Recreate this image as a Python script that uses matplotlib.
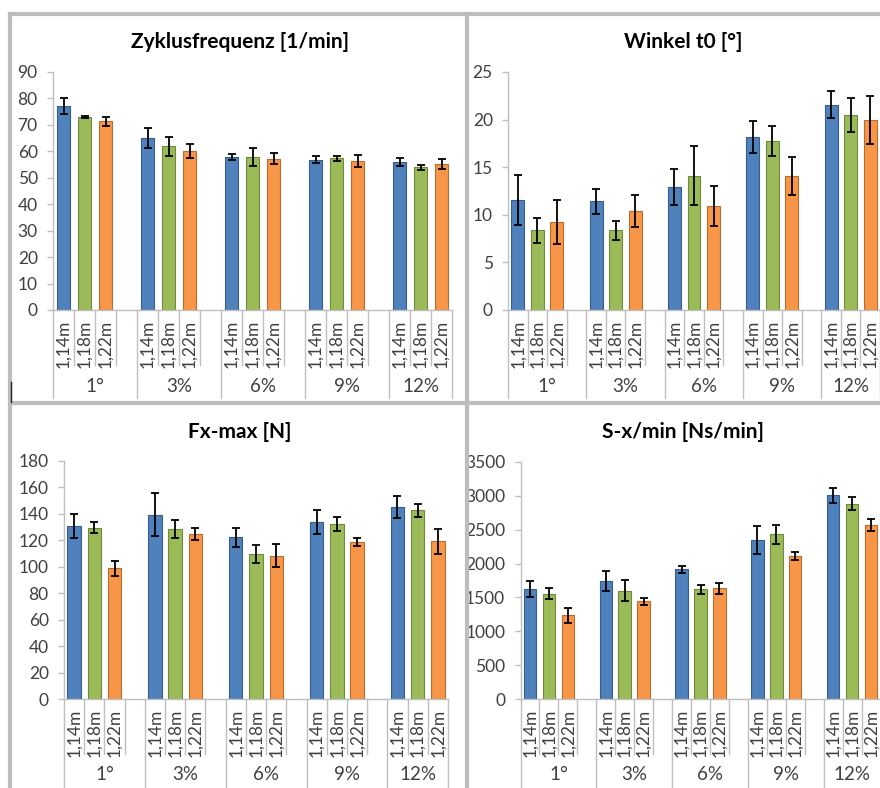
import matplotlib
matplotlib.use("Agg")
import matplotlib.pyplot as plt
from matplotlib.lines import Line2D
from matplotlib.transforms import blended_transform_factory
import numpy as np

W, H, DPI = 880, 788, 100

# ---------------- data ----------------
groups = ["1°", "3%", "6%", "9%", "12%"]
lengths = ["1,14m", "1,18m", "1,22m"]

zyklus_114 = [77.0, 65.2, 57.9, 56.9, 55.8]
zyklus_118 = [73.0, 61.9, 57.9, 57.4, 54.0]
zyklus_122 = [71.3, 60.1, 57.2, 56.3, 55.1]
zyklus_err_114 = [3.0, 3.8, 1.1, 1.4, 1.5]
zyklus_err_118 = [0.3, 3.6, 3.5, 1.0, 1.0]
zyklus_err_122 = [1.6, 2.5, 2.1, 2.2, 1.9]

winkel_114 = [11.55, 11.4, 12.96, 18.17, 21.57]
winkel_118 = [8.37, 8.37, 14.11, 17.75, 20.45]
winkel_122 = [9.28, 10.43, 10.92, 14.11, 19.96]
winkel_err_114 = [2.6, 1.33, 1.9, 1.7, 1.4]
winkel_err_118 = [1.3, 1.0, 3.1, 1.6, 1.8]
winkel_err_122 = [2.3, 1.7, 2.1, 2.0, 2.5]

fx_114 = [130.8, 139.4, 122.5, 133.9, 144.9]
fx_118 = [129.6, 128.3, 109.4, 132.3, 142.7]
fx_122 = [98.8, 124.8, 108.4, 118.7, 119.2]
fx_err_114 = [9.0, 16.3, 7.2, 9.0, 8.3]
fx_err_118 = [4.4, 6.8, 6.8, 5.2, 4.7]
fx_err_122 = [5.5, 4.4, 8.7, 3.0, 9.3]

sx_114 = [1622, 1740, 1917, 2350, 3008]
sx_118 = [1558, 1598, 1622, 2433, 2886]
sx_122 = [1234, 1440, 1632, 2114, 2571]
sx_err_114 = [118, 145, 49, 209, 113]
sx_err_118 = [76, 155, 67, 140, 100]
sx_err_122 = [115, 54, 79, 57, 91]

titles = ["Zyklusfrequenz [1/min]", "Winkel t0 [°]", "Fx-max [N]", "S-x/min [Ns/min]"]
yticks_list = [np.arange(0, 91, 10), np.arange(0, 26, 5),
               np.arange(0, 181, 20), np.arange(0, 3501, 500)]

# ---------------- style ----------------
plt.rcParams['font.family'] = ['Lato', 'DejaVu Sans']
colors = ["#4F81BD", "#9BBB59", "#F79646"]
edges = ["#385D8A", "#71893F", "#B66D31"]
AXGRAY = "#BFBFBF"
BORDER = "#BDBDBD"
TXT = "#404040"

fig = plt.figure(figsize=(W / DPI, H / DPI), dpi=DPI)
fig.patch.set_facecolor("white")

def fy(py):
    return 1 - py / H

def fx(px):
    return px / W

panels = [
    dict(left=53, right=452, top=72, zero=310, tx=240, ty=42, gbottom=398,
         series=[zyklus_114, zyklus_118, zyklus_122],
         errs=[zyklus_err_114, zyklus_err_118, zyklus_err_122]),
    dict(left=508, right=880, top=72, zero=310, tx=683, ty=42, gbottom=398,
         series=[winkel_114, winkel_118, winkel_122],
         errs=[winkel_err_114, winkel_err_118, winkel_err_122]),
    dict(left=64, right=448, top=461, zero=699, tx=240, ty=432, gbottom=790,
         series=[fx_114, fx_118, fx_122],
         errs=[fx_err_114, fx_err_118, fx_err_122]),
    dict(left=520.5, right=880.5, top=462, zero=699, tx=683, ty=432, gbottom=790,
         series=[sx_114, sx_118, sx_122],
         errs=[sx_err_114, sx_err_118, sx_err_122]),
]

n_groups = len(groups)
slot_per_group = len(lengths) + 1
n_slots = n_groups * slot_per_group - 1

for p, title, yt in zip(panels, titles, yticks_list):
    ax = fig.add_axes([fx(p['left']), fy(p['zero']),
                       (p['right'] - p['left']) / W, (p['zero'] - p['top']) / H])
    ax.set_xlim(-0.5, n_slots - 0.5)
    ax.set_ylim(yt[0], yt[-1])
    for s, (vals, err) in enumerate(zip(p['series'], p['errs'])):
        xs = [g * slot_per_group + s for g in range(n_groups)]
        ax.bar(xs, vals, width=0.66, color=colors[s], edgecolor=edges[s], linewidth=0.8,
               yerr=err, capsize=2.6, zorder=2,
               error_kw=dict(ecolor="black", elinewidth=1.3, capthick=1.3, zorder=3))
    ax.set_yticks(yt)
    ax.set_yticklabels([str(int(v)) for v in yt])
    ax.set_xticks([])
    for sp in ["top", "right"]:
        ax.spines[sp].set_visible(False)
    for sp in ["left", "bottom"]:
        ax.spines[sp].set_color(AXGRAY)
        ax.spines[sp].set_linewidth(1.0)
    ax.tick_params(axis='y', length=4, width=1, color=AXGRAY, pad=7,
                   labelsize=12.5, labelcolor=TXT)

    trans = blended_transform_factory(ax.transData, fig.transFigure)
    gb = [g * slot_per_group - 0.5 for g in range(n_groups)] + [n_slots - 0.5]
    for k in range(n_slots + 1):
        xb = k - 0.5
        if xb in gb:
            y2 = p['gbottom']
        else:
            y2 = p['zero'] + 55
        ax.add_line(Line2D([xb, xb], [fy(p['zero']), fy(y2)], transform=trans,
                           color=AXGRAY, lw=1.0, clip_on=False))
    for g in range(n_groups):
        for s, lab in enumerate(lengths):
            ax.text(g * slot_per_group + s, fy(p['zero'] + 10), lab, transform=trans,
                    rotation=90, ha='center', va='top', fontsize=12.5, color=TXT,
                    clip_on=False)
        cx = (gb[g] + gb[g + 1]) / 2
        ax.text(cx, fy(p['zero'] + 76), groups[g], transform=trans, ha='center',
                va='center', fontsize=13.5, color=TXT, clip_on=False)

    fig.text(fx(p['tx']), fy(p['ty']), title, ha='center', va='center',
             fontsize=15, fontweight='bold', color="black")

# panel borders
bw = 3.0
for xs_, ys_ in [([10, 890], [14, 14]), ([10, 890], [403, 403]),
                 ([10, 10], [14, 800]), ([467, 467], [14, 800])]:
    fig.add_artist(Line2D([fx(v) for v in xs_], [fy(v) for v in ys_], color=BORDER,
                          lw=bw, transform=fig.transFigure))
fig.add_artist(Line2D([fx(11), fx(11)], [fy(382), fy(402)], color="#222222",
                      lw=1.0, transform=fig.transFigure))

fig.savefig("out.png", dpi=DPI)
